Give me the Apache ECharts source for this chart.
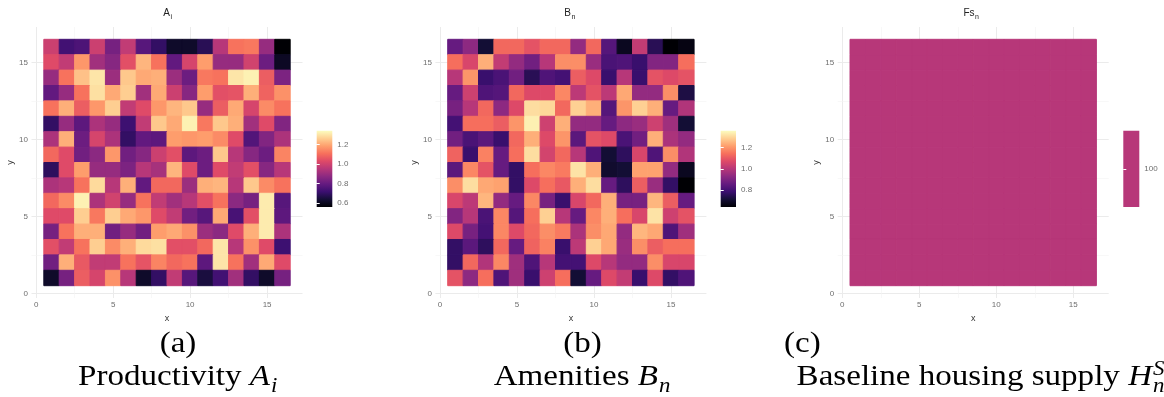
<!DOCTYPE html>
<html>
<head>
<meta charset="utf-8">
<script src="https://cdn.jsdelivr.net/npm/echarts@6/dist/echarts.min.js"></script>
<style>
  html, body { margin: 0; padding: 0; background: #ffffff; }
  #chart { width: 1164px; height: 397px; }
</style>
</head>
<body>
<div id="chart"></div>
<script>
// Grid of 16 x 16 locations; rows listed from y = 16 (top) down to y = 1.
const gridSize = 16;
const axisTicks = [0, 5, 10, 15];
const minorTicks = [2.5, 7.5, 12.5];

// Productivity A_i
const productivityA = [
  [0.99,0.73,0.75,0.99,0.83,0.97,0.77,0.70,0.62,0.62,0.68,0.95,1.11,1.12,0.89,0.56],
  [1.03,0.97,1.17,0.91,0.86,1.04,1.22,1.11,0.79,1.01,1.18,0.89,0.89,1.00,0.81,0.61],
  [0.89,1.11,1.24,1.30,0.90,1.25,1.20,1.21,0.90,0.81,1.12,1.11,1.30,1.32,1.07,0.84],
  [0.79,0.89,1.11,1.29,1.20,1.26,0.91,1.20,0.99,0.86,1.18,1.04,1.05,1.21,1.08,1.16],
  [1.11,1.21,1.07,1.17,1.26,0.97,1.03,1.17,1.22,1.25,0.89,1.07,1.20,1.01,1.15,1.11],
  [0.70,0.89,0.78,0.93,0.89,0.72,0.97,1.25,1.20,1.32,1.12,1.25,1.21,0.91,1.03,0.85],
  [0.93,1.21,0.81,1.01,0.93,0.70,0.79,0.78,1.18,1.17,1.18,1.15,1.03,0.76,0.85,0.93],
  [1.09,1.03,0.82,0.87,1.17,0.82,0.86,0.99,1.04,0.78,0.81,1.25,0.95,0.86,0.81,1.14],
  [0.69,1.03,1.18,0.89,0.89,0.84,0.95,0.92,1.22,1.03,0.81,1.03,0.97,1.04,0.86,0.95],
  [0.93,0.95,1.11,1.28,0.95,1.21,0.79,1.09,1.09,0.90,1.21,1.22,0.95,1.25,1.15,1.11],
  [1.09,1.15,1.32,0.93,1.00,0.89,1.11,0.97,0.91,0.95,1.04,1.11,0.87,0.83,1.31,0.77],
  [1.03,1.03,1.26,1.12,1.26,1.20,1.17,1.03,0.97,0.82,0.77,1.20,0.74,1.04,1.31,0.78],
  [0.83,1.11,1.21,1.21,0.82,0.89,0.82,1.18,1.20,1.16,0.90,0.87,1.03,1.21,1.31,0.93],
  [1.04,0.97,1.11,1.26,1.15,1.21,1.28,1.29,1.04,1.04,1.09,1.30,0.95,1.16,1.03,0.72],
  [0.82,1.21,1.06,0.97,0.97,1.11,1.05,1.14,1.09,1.11,0.78,1.30,1.11,0.91,1.20,1.03],
  [0.62,0.83,1.07,1.01,1.16,0.95,0.62,0.70,0.97,0.77,0.65,0.73,0.91,0.70,0.62,0.83]
];

// Amenities B_n
const amenitiesB = [
  [0.86,0.93,0.71,1.13,1.13,1.09,1.13,1.13,0.94,1.13,0.83,0.68,1.02,0.75,0.64,0.66],
  [1.14,1.06,1.24,1.02,0.94,0.88,1.00,1.19,1.19,0.95,0.81,0.82,0.78,0.91,0.91,1.14],
  [1.00,1.20,0.78,0.81,0.88,0.75,0.82,0.80,1.11,1.07,0.78,1.00,0.78,1.09,1.07,1.09],
  [0.86,1.04,0.82,0.83,1.13,1.07,1.07,1.18,1.01,1.09,1.01,1.23,0.94,0.94,1.19,0.73],
  [0.89,1.00,1.13,0.93,1.07,1.31,1.30,1.13,1.29,1.24,0.83,1.20,1.29,1.24,0.86,0.99],
  [0.80,1.14,1.14,1.11,1.20,1.34,1.04,1.24,0.94,0.94,0.86,0.93,0.95,1.04,0.96,0.71],
  [0.88,0.81,0.84,0.78,1.13,1.24,1.07,1.20,0.84,1.09,1.07,0.81,0.88,1.24,0.98,0.94],
  [1.12,0.78,1.17,0.86,1.14,1.31,1.05,1.13,1.00,0.82,0.71,0.76,1.06,0.82,1.19,0.99],
  [0.84,1.18,1.09,0.86,0.77,1.14,1.18,1.16,1.32,1.24,0.70,0.71,1.22,1.22,0.94,0.68],
  [1.19,1.31,1.23,1.22,0.77,1.07,1.14,1.10,1.24,1.31,0.86,0.76,1.11,0.95,0.77,0.64],
  [1.06,1.01,1.25,0.94,0.86,1.18,0.89,0.78,1.06,1.13,1.24,0.89,0.89,1.25,1.11,0.86],
  [0.91,1.00,0.81,1.18,0.83,1.14,1.29,1.00,0.86,1.18,1.24,1.14,1.06,1.32,1.04,1.09],
  [1.07,0.89,0.80,1.18,1.07,1.13,1.19,1.16,0.98,1.19,1.23,0.94,1.25,1.23,0.82,0.96],
  [0.77,0.84,0.76,1.13,0.86,1.12,1.17,0.78,1.01,1.29,1.23,0.95,1.19,1.11,1.14,1.14],
  [0.77,1.13,0.99,1.18,0.96,0.82,1.00,0.80,0.80,1.07,1.00,0.94,0.94,1.19,1.06,1.06],
  [1.09,0.93,1.14,0.82,0.96,0.78,1.04,1.14,0.71,0.86,1.07,1.02,0.78,1.07,0.77,0.82]
];

// Baseline housing supply (same value in every location)
const housingSupply = [
  [100,100,100,100,100,100,100,100,100,100,100,100,100,100,100,100],
  [100,100,100,100,100,100,100,100,100,100,100,100,100,100,100,100],
  [100,100,100,100,100,100,100,100,100,100,100,100,100,100,100,100],
  [100,100,100,100,100,100,100,100,100,100,100,100,100,100,100,100],
  [100,100,100,100,100,100,100,100,100,100,100,100,100,100,100,100],
  [100,100,100,100,100,100,100,100,100,100,100,100,100,100,100,100],
  [100,100,100,100,100,100,100,100,100,100,100,100,100,100,100,100],
  [100,100,100,100,100,100,100,100,100,100,100,100,100,100,100,100],
  [100,100,100,100,100,100,100,100,100,100,100,100,100,100,100,100],
  [100,100,100,100,100,100,100,100,100,100,100,100,100,100,100,100],
  [100,100,100,100,100,100,100,100,100,100,100,100,100,100,100,100],
  [100,100,100,100,100,100,100,100,100,100,100,100,100,100,100,100],
  [100,100,100,100,100,100,100,100,100,100,100,100,100,100,100,100],
  [100,100,100,100,100,100,100,100,100,100,100,100,100,100,100,100],
  [100,100,100,100,100,100,100,100,100,100,100,100,100,100,100,100],
  [100,100,100,100,100,100,100,100,100,100,100,100,100,100,100,100]
];

// Colour scale limits and legend labels
const scaleRangeA = [0.56, 1.34];
const scaleRangeB = [0.64, 1.36];
const scaleRangeC = [99, 101];
const legendTicksA = [0.6, 0.8, 1.0, 1.2];
const legendTicksB = [0.8, 1.0, 1.2];
const legendTicksC = [100];

const magma = ['#000004','#140e36','#3b0f70','#641a80','#8c2981','#b73779',
               '#de4968','#f7705c','#fe9f6d','#fecf92','#fcfdbf'];

function toCells(rows) {
  const out = [];
  rows.forEach(function (row, r) {
    row.forEach(function (v, c) { out.push([c + 1, gridSize - r, v]); });
  });
  return out;
}

// One tile per location; the stroke closes the hairline seams between neighbours
function renderTile(params, api) {
  const x = api.value(0), y = api.value(1);
  const p0 = api.coord([x - 0.5, y + 0.5]);
  const p1 = api.coord([x + 0.5, y - 0.5]);
  const c = api.visual('color');
  return {
    type: 'rect',
    shape: { x: p0[0], y: p0[1], width: p1[0] - p0[0], height: p1[1] - p0[1] },
    style: { fill: c, stroke: c, lineWidth: 1 }
  };
}

function colorbarRenderer(range, gradient) {
  return function (params, api) {
    const p0 = api.coord([0, range[1]]);
    const p1 = api.coord([1, range[0]]);
    const fill = gradient
      ? new echarts.graphic.LinearGradient(0, 1, 0, 0,
          magma.map(function (c, i) { return { offset: i / (magma.length - 1), color: c }; }))
      : api.visual('color');
    return {
      type: 'rect',
      shape: { x: p0[0], y: p0[1], width: p1[0] - p0[0], height: p1[1] - p0[1] },
      style: { fill: fill }
    };
  };
}

const tickFont = { fontFamily: 'Liberation Sans', fontSize: 8, color: '#6e6e6e' };
const nameFont = { fontFamily: 'Liberation Sans', fontSize: 9, color: '#333333' };

// Panel layout
const panels = [
  { left: 31.5, data: productivityA, range: scaleRangeA, bar: { left: 316.7, width: 15.6 }, ticks: legendTicksA, gradient: true },
  { left: 435.4, data: amenitiesB, range: scaleRangeB, bar: { left: 720.7, width: 15.3 }, ticks: legendTicksB, gradient: true },
  { left: 837.7, data: housingSupply, range: scaleRangeC, bar: { left: 1123.3, width: 16 }, ticks: legendTicksC, gradient: false }
];
const panelTop = 27, panelSize = 271;
const axisMin = -0.3, axisMax = 17.3;

const grid = [], xAxis = [], yAxis = [], series = [], visualMap = [];

panels.forEach(function (p, i) {
  grid.push({ left: p.left, top: panelTop, width: panelSize, height: panelSize });
  xAxis.push({
    type: 'value', gridIndex: i, min: axisMin, max: axisMax,
    name: 'x', nameLocation: 'middle', nameGap: 12, nameTextStyle: nameFont,
    axisLine: { show: false }, axisTick: { show: false, customValues: axisTicks },
    splitLine: { show: false },
    axisLabel: Object.assign({ customValues: axisTicks, margin: 3 }, tickFont)
  });
  yAxis.push({
    type: 'value', gridIndex: i, min: axisMin, max: axisMax,
    name: 'y', nameLocation: 'middle', nameGap: 15, nameTextStyle: nameFont,
    axisLine: { show: false }, axisTick: { show: false, customValues: axisTicks },
    splitLine: { show: false },
    axisLabel: Object.assign({ customValues: axisTicks, margin: 3.5 }, tickFont)
  });
});

panels.forEach(function (p, i) {
  grid.push({ left: p.bar.left, top: 130.7, width: p.bar.width, height: 76.3 });
  xAxis.push({ type: 'value', gridIndex: 3 + i, min: 0, max: 1, show: false });
});
// Colour-bar axes sit on the upper layer so their white ticks show over the bar
panels.forEach(function (p, i) {
  yAxis.push({
    type: 'value', gridIndex: 3 + i, position: 'right', min: p.range[0], max: p.range[1],
    zlevel: 1, z: 5,
    axisLine: { show: false }, splitLine: { show: false },
    axisTick: { show: true, inside: true, length: 3, customValues: p.ticks, lineStyle: { color: '#ffffff', width: 1 } },
    axisLabel: Object.assign({ customValues: p.ticks, margin: 5,
      formatter: function (v) { return p.gradient ? v.toFixed(1) : String(v); } }, tickFont)
  });
});
panels.forEach(function (p, i) {
  yAxis.push({
    type: 'value', gridIndex: 3 + i, position: 'left', min: p.range[0], max: p.range[1],
    zlevel: 1, z: 5,
    axisLine: { show: false }, splitLine: { show: false }, axisLabel: { show: false },
    axisTick: { show: true, inside: true, length: 3, customValues: p.ticks, lineStyle: { color: '#ffffff', width: 1 } }
  });
});

// Panel grid lines (lower layer) and tiles (upper layer)
panels.forEach(function (p, i) {
  const lines = [];
  axisTicks.forEach(function (v) {
    lines.push({ xAxis: v, lineStyle: { color: '#ebebeb', width: 1, type: 'solid' } });
    lines.push({ yAxis: v, lineStyle: { color: '#ebebeb', width: 1, type: 'solid' } });
  });
  minorTicks.forEach(function (v) {
    lines.push({ xAxis: v, lineStyle: { color: '#f4f4f4', width: 0.6, type: 'solid' } });
    lines.push({ yAxis: v, lineStyle: { color: '#f4f4f4', width: 0.6, type: 'solid' } });
  });
  series.push({
    type: 'line', xAxisIndex: i, yAxisIndex: i, data: [], zlevel: 0, z: 1, silent: true,
    markLine: { silent: true, symbol: ['none', 'none'], label: { show: false }, animation: false,
      lineStyle: { type: 'solid' }, data: lines }
  });
  series.push({
    type: 'custom', xAxisIndex: i, yAxisIndex: i, zlevel: 1, z: 2,
    dimensions: ['x', 'y', 'value'], encode: { x: 0, y: 1 },
    renderItem: renderTile, data: toCells(p.data)
  });
});
const tileSeriesIndex = [1, 3, 5];

// Colour bars
panels.forEach(function (p, i) {
  series.push({
    type: 'custom', xAxisIndex: 3 + i, yAxisIndex: 3 + i, zlevel: 1, z: 2, silent: true,
    dimensions: ['x', 'y', 'value'], encode: { x: 0, y: 1 },
    renderItem: colorbarRenderer(p.range, p.gradient),
    data: p.gradient ? [[0.5, p.range[0], p.range[0]]] : [[0.5, p.ticks[0], p.ticks[0]]]
  });
});

panels.forEach(function (p, i) {
  visualMap.push({
    type: 'continuous', show: false, dimension: 2,
    seriesIndex: p.gradient ? [tileSeriesIndex[i]] : [tileSeriesIndex[i], 6 + i],
    min: p.range[0], max: p.range[1], inRange: { color: magma }
  });
});

function txt(x, y, text, size, opts) {
  opts = opts || {};
  return {
    type: 'text', x: x, y: y, scaleX: opts.scaleX || 1, silent: true,
    style: {
      text: text, fontSize: size, fontFamily: opts.family || 'Liberation Serif',
      fontStyle: opts.italic ? 'italic' : 'normal', fill: opts.color || '#000000',
      textAlign: opts.align || 'center', align: opts.align || 'center',
      textVerticalAlign: 'middle', verticalAlign: 'middle'
    }
  };
}

// Caption line: upright words followed by an italic symbol with sub/superscripts
const capScale = 1.14;
function captionLine(symRight, words, symbol, sub, sup) {
  const items = [{
    type: 'text', x: symRight, y: 377, scaleX: capScale, silent: true,
    style: {
      text: '{w|' + words + '}{s|' + symbol + '}', textAlign: 'right', align: 'right',
      textVerticalAlign: 'middle', verticalAlign: 'middle',
      fontSize: 29, fontFamily: 'Liberation Serif', fill: '#000000',
      rich: {
        w: { fontSize: 29, fontFamily: 'Liberation Serif', fill: '#000000' },
        s: { fontSize: 29, fontFamily: 'Liberation Serif', fontStyle: 'italic', fill: '#000000' }
      }
    }
  }];
  if (sub) items.push(txt(symRight + 1, 386.5, sub, 20, { align: 'left', italic: true, scaleX: capScale }));
  if (sup) items.push(txt(symRight + 1, 369.5, sup, 20, { align: 'left', italic: true, scaleX: capScale }));
  return items;
}

const sansTitle = { family: 'Liberation Sans', color: '#222222' };
const graphic = [
  // panel titles
  txt(170, 13.3, 'A', 10, Object.assign({ align: 'right' }, sansTitle)),
  txt(170.5, 17, 'i', 7, Object.assign({ align: 'left' }, sansTitle)),
  txt(571, 13.3, 'B', 10, Object.assign({ align: 'right' }, sansTitle)),
  txt(571.5, 17, 'n', 7, Object.assign({ align: 'left' }, sansTitle)),
  txt(974.5, 13.3, 'Fs', 10, Object.assign({ align: 'right' }, sansTitle)),
  txt(975, 17, 'n', 7, Object.assign({ align: 'left' }, sansTitle)),
  // sub-figure labels
  txt(178, 344, '(a)', 29, { scaleX: capScale }),
  txt(582.5, 344, '(b)', 29, { scaleX: capScale }),
  txt(784, 344, '(c)', 29, { align: 'left', scaleX: capScale })
].concat(
  captionLine(270, 'Productivity ', 'A', 'i', null),
  captionLine(658, 'Amenities ', 'B', 'n', null),
  captionLine(1152, 'Baseline housing supply ', 'H', 'n', 'S')
);

const chart = echarts.init(document.getElementById('chart'), null, { renderer: 'canvas' });
chart.setOption({
  backgroundColor: '#ffffff',
  animation: false,
  grid: grid,
  xAxis: xAxis,
  yAxis: yAxis,
  visualMap: visualMap,
  series: series,
  graphic: graphic
});
</script>
</body>
</html>
